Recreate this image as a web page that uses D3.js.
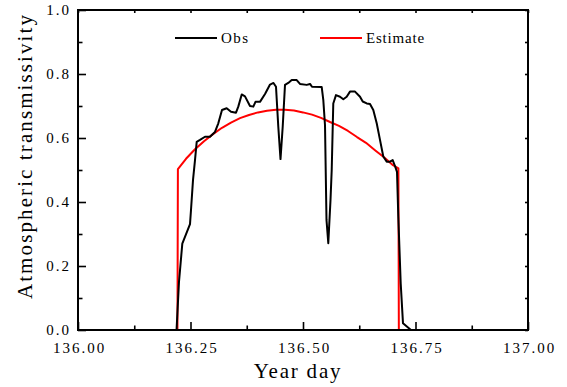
<!DOCTYPE html>
<html>
<head>
<meta charset="utf-8">
<script src="https://cdn.jsdelivr.net/npm/d3@7"></script>
<style>
  html, body { margin: 0; padding: 0; background: #fff; }
  svg { display: block; }
  text { font-family: "Liberation Serif", "Times New Roman", serif; fill: #000; }
</style>
</head>
<body>
<svg id="chart" width="567" height="387" font-family="Liberation Serif"></svg>
<script>
// ---- Data ----
const obsDay = [136.0, 136.219, 136.2244, 136.2318, 136.2489, 136.2511, 136.2556, 136.26, 136.2638, 136.2711,
  136.2822, 136.2933, 136.3044, 136.3118, 136.32, 136.3304, 136.34, 136.3511, 136.3562, 136.3638,
  136.3711, 136.3822, 136.3896, 136.3944, 136.4044, 136.4156, 136.4267, 136.4344, 136.44, 136.4451,
  136.45, 136.4549, 136.46, 136.4673, 136.4749, 136.486, 136.4933, 136.5082, 136.5156, 136.52,
  136.5416, 136.5451, 136.5489, 136.5522, 136.5562, 136.5611, 136.5638, 136.5673, 136.5733, 136.5822,
  136.5896, 136.5971, 136.6044, 136.6156, 136.6267, 136.6327, 136.6416, 136.6489, 136.6562, 136.6638,
  136.6711, 136.6784, 136.686, 136.6933, 136.6993, 136.7044, 136.7089, 136.7118, 136.7171, 136.7222,
  136.74, 137.0];
const obsVal = [0, 0, 0.15, 0.27, 0.331, 0.375, 0.469, 0.531, 0.588, 0.594,
  0.604, 0.604, 0.619, 0.646, 0.6875, 0.693, 0.682, 0.679, 0.698, 0.736,
  0.73, 0.70, 0.698, 0.713, 0.713, 0.7375, 0.767, 0.772, 0.760, 0.635,
  0.534, 0.635, 0.766, 0.772, 0.781, 0.781, 0.769, 0.766, 0.769, 0.760,
  0.759, 0.719, 0.64, 0.344, 0.271, 0.406, 0.50, 0.708, 0.734, 0.729,
  0.721, 0.729, 0.745, 0.745, 0.729, 0.714, 0.708, 0.706, 0.6875, 0.646,
  0.594, 0.542, 0.526, 0.526, 0.531, 0.5125, 0.494, 0.354, 0.146, 0.021,
  0, 0];

const estDay = [136.0, 136.221, 136.222, 136.24, 136.26, 136.28, 136.30, 136.32, 136.34, 136.36,
  136.38, 136.40, 136.42, 136.44, 136.46, 136.48, 136.50, 136.52, 136.54, 136.56,
  136.58, 136.60, 136.62, 136.64, 136.66, 136.68, 136.70, 136.712, 136.713, 137.0];
const estVal = [0, 0, 0.503, 0.535, 0.565, 0.59, 0.612, 0.632, 0.648, 0.662,
  0.672, 0.680, 0.685, 0.688, 0.688, 0.686, 0.680, 0.673, 0.663, 0.650,
  0.638, 0.622, 0.603, 0.585, 0.562, 0.54, 0.515, 0.505, 0, 0];

const xMajorTicks = [136.00, 136.25, 136.50, 136.75, 137.00];
const xMinorTicks = [136.125, 136.375, 136.625, 136.875];
const yMajorTicks = [0.0, 0.2, 0.4, 0.6, 0.8, 1.0];
const yMinorTicks = [0.1, 0.3, 0.5, 0.7, 0.9];

const legendLabels = ["Obs", "Estimate"];
const seriesColors = ["#000000", "#ff0000"];

// ---- Layout ----
const SERIF = "'Liberation Serif', 'Times New Roman', serif";
const L = 78, R = 528, T = 10, B = 330;
const svg = d3.select("#chart");
const x = d3.scaleLinear().domain([136, 137]).range([L, R]);
const y = d3.scaleLinear().domain([0, 1]).range([B, T]);

const line = d3.line().x(d => x(d[0])).y(d => y(d[1])).curve(d3.curveLinear);
const estData = estDay.map((d, i) => [d, estVal[i]]);
const obsData = obsDay.map((d, i) => [d, obsVal[i]]);

const plot = svg.append("g");
plot.append("path").datum(estData).attr("d", line)
  .attr("fill", "none").attr("stroke", seriesColors[1]).attr("stroke-width", 2)
  .attr("stroke-linejoin", "round");
plot.append("path").datum(obsData).attr("d", line)
  .attr("fill", "none").attr("stroke", seriesColors[0]).attr("stroke-width", 2)
  .attr("stroke-linejoin", "round");

// ---- Axes (ticks inward, all four sides) ----
const majLen = 8, minLen = 4.5, oppLen = 3;
const fmtX = d3.format(".2f"), fmtY = d3.format(".1f");

const axBottom = d3.axisBottom(x).tickValues(xMajorTicks).tickSizeInner(-majLen).tickSizeOuter(0).tickFormat(fmtX).tickPadding(12);
const gB = svg.append("g").attr("transform", `translate(0,${B})`).call(axBottom);
const gBm = svg.append("g").attr("transform", `translate(0,${B})`)
  .call(d3.axisBottom(x).tickValues(xMinorTicks).tickSizeInner(-minLen).tickSizeOuter(0).tickFormat(""));

const axLeft = d3.axisLeft(y).tickValues(yMajorTicks).tickSizeInner(-majLen).tickSizeOuter(0).tickFormat(fmtY).tickPadding(8);
const gL = svg.append("g").attr("transform", `translate(${L},0)`).call(axLeft);
const gLm = svg.append("g").attr("transform", `translate(${L},0)`)
  .call(d3.axisLeft(y).tickValues(yMinorTicks).tickSizeInner(-minLen).tickSizeOuter(0).tickFormat(""));

const gT = svg.append("g").attr("transform", `translate(0,${T})`)
  .call(d3.axisTop(x).tickValues(xMajorTicks.concat(xMinorTicks)).tickSizeInner(-oppLen).tickSizeOuter(0).tickFormat(""));
const gR = svg.append("g").attr("transform", `translate(${R},0)`)
  .call(d3.axisRight(y).tickValues(yMajorTicks.concat(yMinorTicks)).tickSizeInner(-oppLen).tickSizeOuter(0).tickFormat(""));

[gB, gBm, gL, gLm, gT, gR].forEach(g => {
  g.attr("font-family", SERIF).attr("font-size", 15);
  g.select(".domain").remove();
  g.selectAll(".tick line").attr("stroke", "#000").attr("stroke-width", 1.6);
});
[gB, gL].forEach(g => {
  g.selectAll(".tick text")
    .attr("font-family", SERIF).style("font-family", SERIF).style("font-size", "15px")
    .style("letter-spacing", "2px").attr("dx", "1px").attr("fill", "#000");
});

// frame
svg.append("rect").attr("x", L).attr("y", T).attr("width", R - L).attr("height", B - T)
  .attr("fill", "none").attr("stroke", "#000").attr("stroke-width", 2);

// ---- Axis titles ----
svg.append("text").attr("x", 298).attr("y", 378).attr("text-anchor", "middle")
  .style("font-family", SERIF).style("font-size", "21px").style("letter-spacing", "1.8px").text("Year day");
svg.append("text").attr("transform", "translate(32,156) rotate(-90)").attr("text-anchor", "middle")
  .style("font-family", SERIF).style("font-size", "21px").style("letter-spacing", "2.1px").text("Atmospheric transmissivity");

// ---- Legend ----
const legX = [175, 320];
const leg = svg.append("g");
legendLabels.forEach((lab, i) => {
  leg.append("line").attr("x1", legX[i]).attr("x2", legX[i] + 42).attr("y1", 38).attr("y2", 38)
    .attr("stroke", seriesColors[i]).attr("stroke-width", 2);
  leg.append("text").attr("x", legX[i] + 46).attr("y", 43)
    .style("font-family", SERIF).style("font-size", "15px")
    .style("letter-spacing", i === 0 ? "1.5px" : "0.8px").text(lab);
});
</script>
</body>
</html>
